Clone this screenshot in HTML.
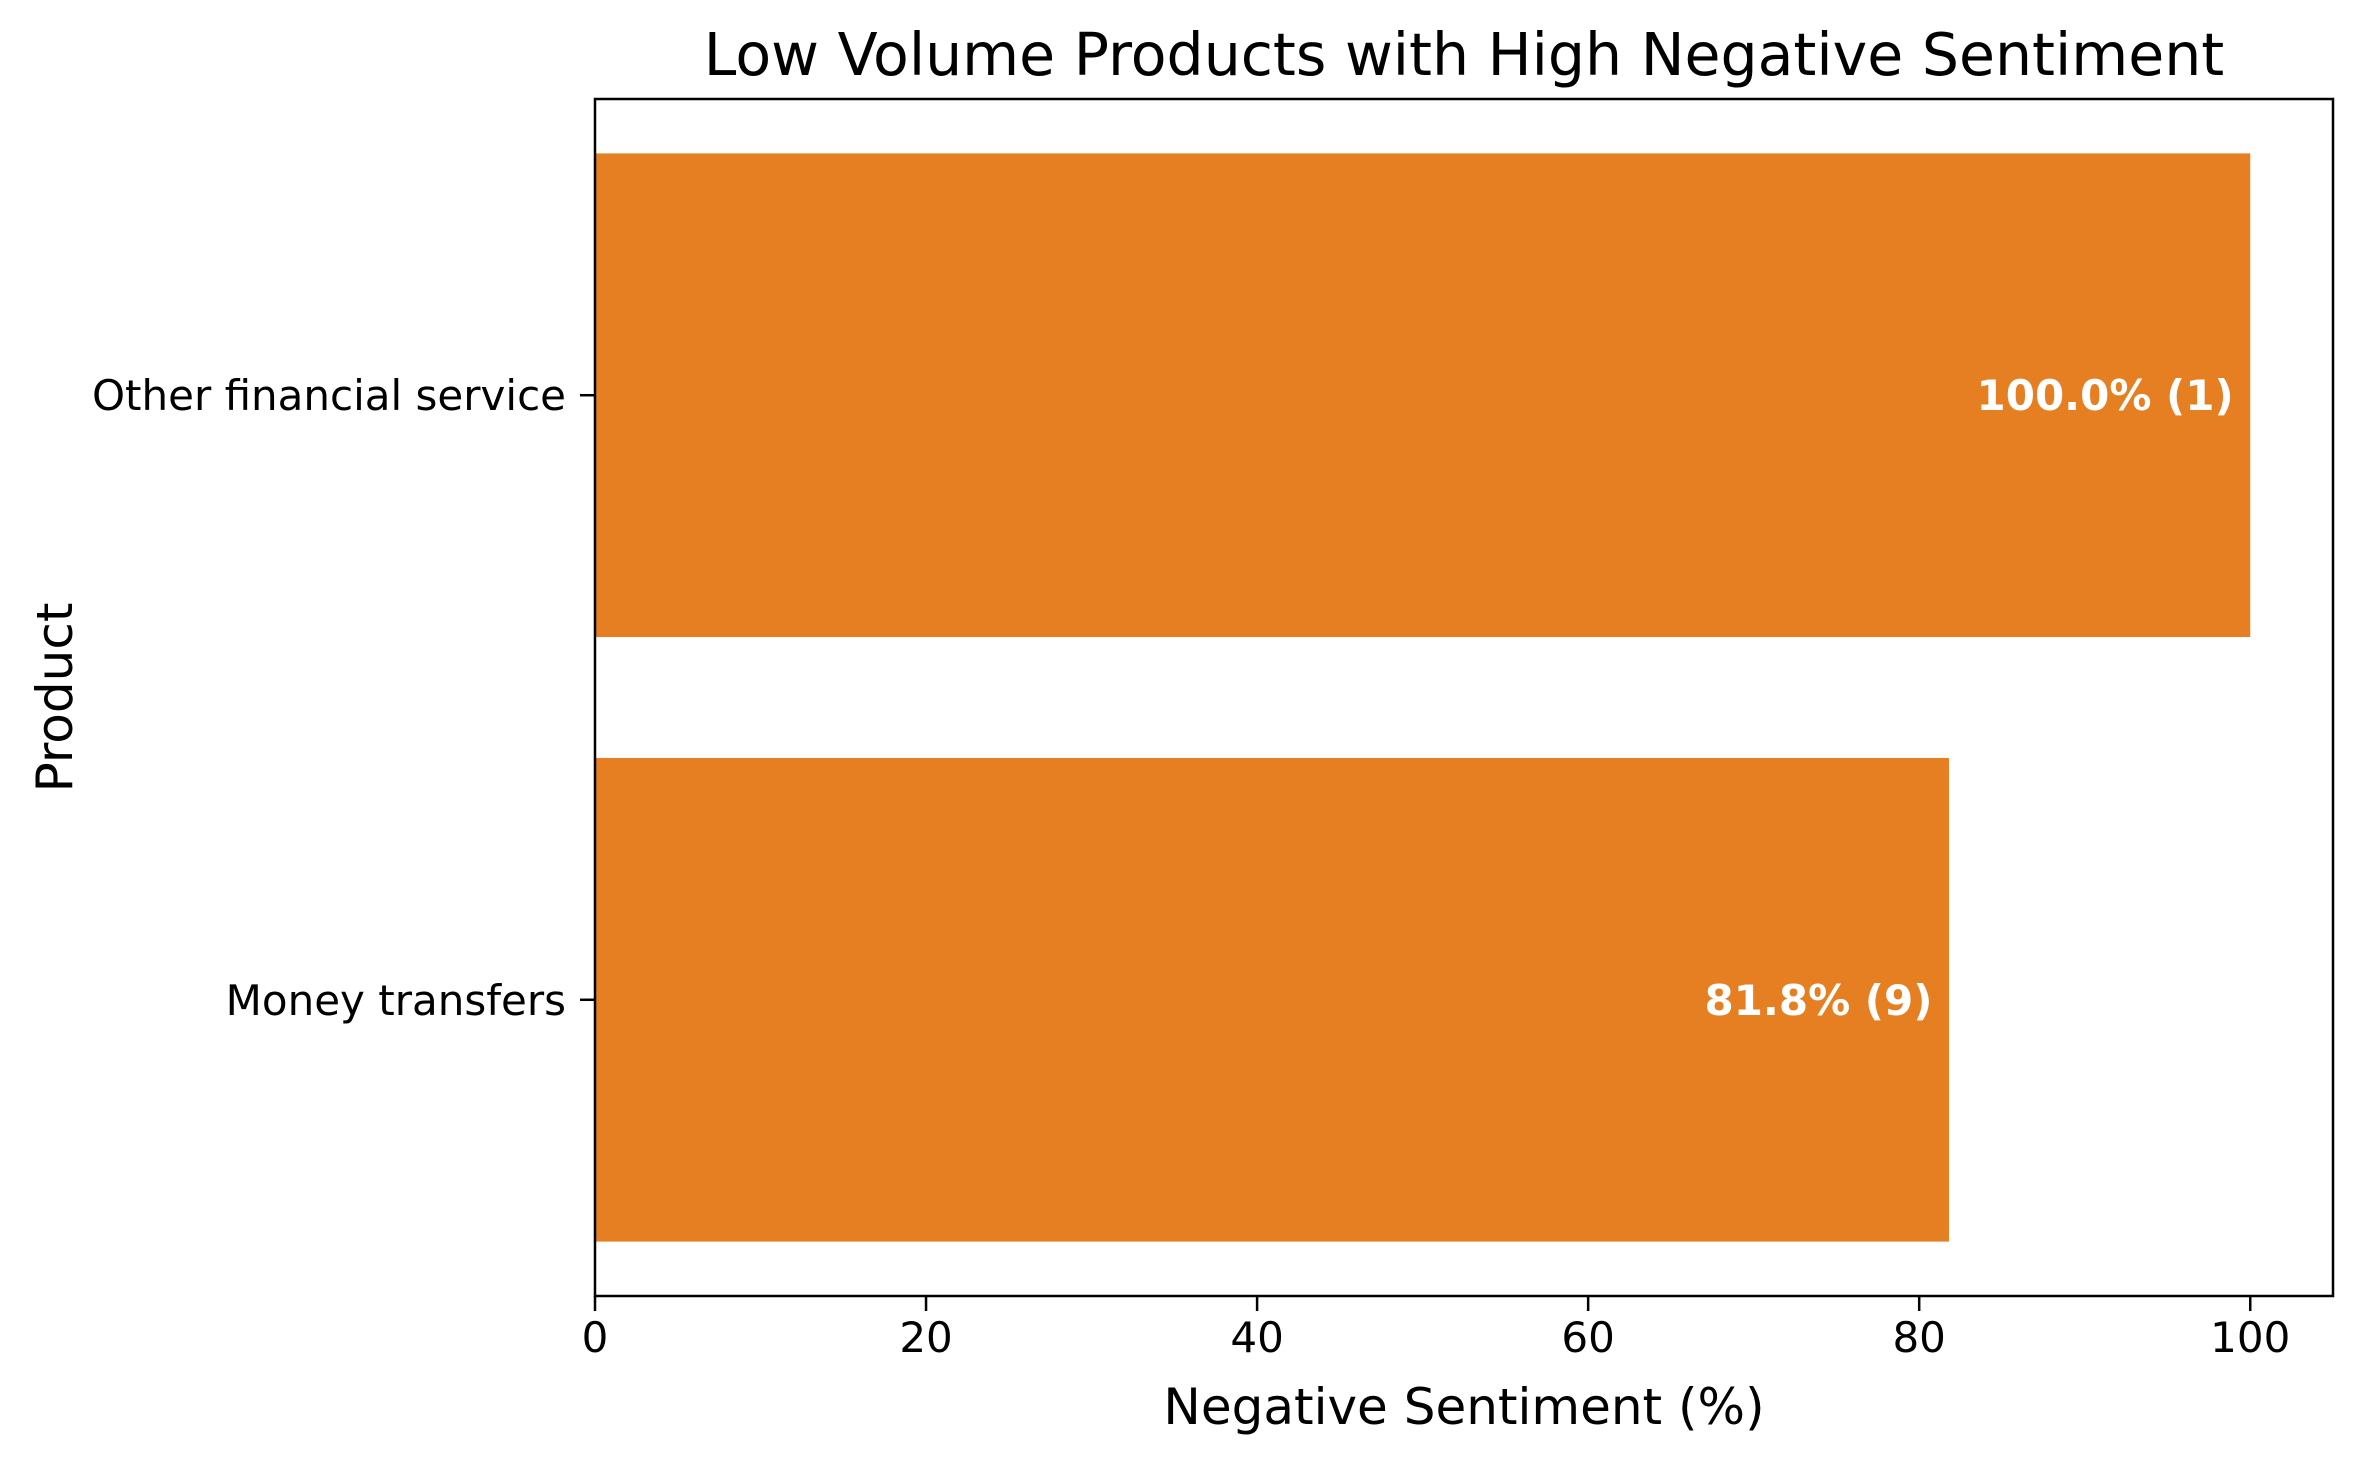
<!DOCTYPE html>
<html><head><meta charset="utf-8"><style>
body{margin:0;background:#fff}
svg{display:block;font-family:"DejaVu Sans","Liberation Sans",sans-serif}
</style></head><body>
<svg id="chart" width="2363" height="1464" viewBox="0 0 2363 1464"></svg>
<script>
const categories = ["Money transfers", "Other financial service"];
const values = [81.8, 100.0];
const counts = [9, 1];
const xTicks = [0, 20, 40, 60, 80, 100];

const L = 595, R = 2333, T = 99, B = 1296;
const xMax = 105;
const yMin = -0.49, yMax = 1.49;
const x = v => L + (v / xMax) * (R - L);
const y = i => B - (i - yMin) / (yMax - yMin) * (B - T);
const unit = (B - T) / (yMax - yMin);
const NS = "http://www.w3.org/2000/svg";
const svg = document.getElementById("chart");
function mk(tag, attrs, text) {
  const e = document.createElementNS(NS, tag);
  for (const k in attrs) e.setAttribute(k, attrs[k]);
  if (text !== undefined) e.textContent = text;
  svg.appendChild(e);
  return e;
}
let t = mk("text", {x: (L + R) / 2, y: 75, "text-anchor": "middle", "font-size": 58.5, fill: "#000"}, "Low Volume Products with High Negative Sentiment");



categories.forEach((c, i) => {
  const cy = y(i);
  const bar = mk("rect", {x: x(0), y: cy - 0.4 * unit, width: x(values[i]) - x(0), height: 0.8 * unit, fill: "#e67e22"});
  
  
  const lbl = mk("text", {x: x(values[i] - 1), y: cy + 15, "text-anchor": "end", "font-size": 42, "font-weight": "bold", fill: "#fff"}, values[i].toFixed(1) + "% (" + counts[i] + ")");
  
  
  const tk = mk("line", {x1: L - 15, x2: L, y1: cy, y2: cy, stroke: "#000", "stroke-width": 2.5});
  
  
  const tl = mk("text", {x: L - 29, y: cy + 15, "text-anchor": "end", "font-size": 42, fill: "#000"}, c);
  
  
});

xTicks.forEach(v => {
  const tk = mk("line", {x1: x(v), x2: x(v), y1: B, y2: B + 15, stroke: "#000", "stroke-width": 2.5});
  
  
  const tl = mk("text", {x: x(v), y: 1352, "text-anchor": "middle", "font-size": 42, fill: "#000"}, String(v));
  
  
});

const frame = mk("rect", {x: L, y: T, width: R - L, height: B - T, fill: "none", stroke: "#000", "stroke-width": 2.5});



const xl = mk("text", {x: (L + R) / 2, y: 1424, "text-anchor": "middle", "font-size": 50, fill: "#000"}, "Negative Sentiment (%)");


const yl = mk("text", {x: 0, y: 0, transform: "translate(72," + ((T + B) / 2) + ") rotate(-90)", "text-anchor": "middle", "font-size": 50, fill: "#000"}, "Product");


</script>
</body></html>
